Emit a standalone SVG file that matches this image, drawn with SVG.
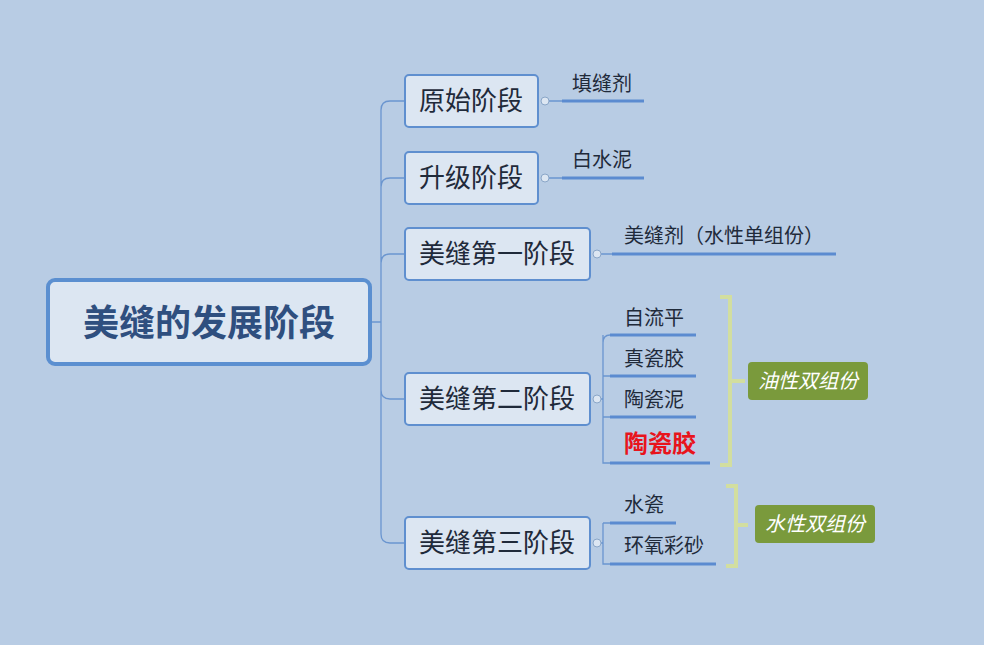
<svg xmlns="http://www.w3.org/2000/svg" width="984" height="645" viewBox="0 0 984 645">
<style>
.n{fill:#dce6f2;stroke:#5f8fcf;stroke-width:2}
.t{font-family:"Noto Sans CJK SC",sans-serif;fill:#1f2a3a}
.st{font-size:26px}
.lf{font-size:20px}
.c{fill:none;stroke:#6a95cf;stroke-width:1.3}
.u{stroke:#5b8bd0;stroke-width:3}
.br{fill:none;stroke:#d2dea0;stroke-width:4}
.g{fill:#7a9a3c}
.gt{font-family:"Noto Sans CJK SC",sans-serif;font-size:20px;font-style:italic;fill:#fff}
.k{fill:#dce6f2;stroke:#8aa6c8;stroke-width:1}
</style>
<rect width="984" height="645" fill="#b8cce4"/>
<g id="connectors">
<path class="c" d="M370,322 H381 M381,110 Q381,101 390,101 H405 M381,187 Q381,178 390,178 H405 M381,263 Q381,254 390,254 H405 M381,390 Q381,399 390,399 H405 M381,534 Q381,543 390,543 H405 M381,110 V534"/>
<path class="c" d="M549,101 H562 M549,178 H562 M601,254 H612 M594,399 H603 M603,343 Q603,335 610,335 M603,335 V463 H610 M603,376 H610 M603,417 H610 M594,543 H603 M603,523 H610 M603,523 V564 H610"/>
<line class="u" x1="562" y1="101" x2="644" y2="101"/>
<line class="u" x1="562" y1="178" x2="644" y2="178"/>
<line class="u" x1="612" y1="254" x2="836" y2="254"/>
<line class="u" x1="610" y1="335" x2="696" y2="335"/>
<line class="u" x1="610" y1="376" x2="696" y2="376"/>
<line class="u" x1="610" y1="417" x2="696" y2="417"/>
<line class="u" x1="610" y1="463" x2="710" y2="463"/>
<line class="u" x1="610" y1="523" x2="676" y2="523"/>
<line class="u" x1="610" y1="564" x2="716" y2="564"/>
<path class="br" d="M720,297 H730 V465 H720 M730,381 H745"/>
<path class="br" d="M726,486 H736 V566 H726 M736,525 H748"/>
<circle class="k" cx="545" cy="101" r="4"/>
<circle class="k" cx="545" cy="178" r="4"/>
<circle class="k" cx="597" cy="254" r="4"/>
<circle class="k" cx="597" cy="399" r="4"/>
<circle class="k" cx="597" cy="543" r="4"/>
</g>
<g id="root"><rect x="48" y="280" width="322" height="84" rx="7" fill="#dce6f2" stroke="#5b8fd0" stroke-width="4"/>
<text x="209" y="336" text-anchor="middle" font-family="Noto Sans CJK SC,sans-serif" font-size="36" font-weight="bold" fill="#2f4f7f">美缝的发展阶段</text></g>
<g id="s1"><rect class="n" x="405" y="75" width="133" height="52" rx="4"/><text class="t st" x="471" y="110" text-anchor="middle">原始阶段</text></g>
<g id="s2"><rect class="n" x="405" y="152" width="133" height="52" rx="4"/><text class="t st" x="471" y="187" text-anchor="middle">升级阶段</text></g>
<g id="s3"><rect class="n" x="405" y="228" width="185" height="52" rx="4"/><text class="t st" x="497" y="263" text-anchor="middle">美缝第一阶段</text></g>
<g id="s4"><rect class="n" x="405" y="373" width="185" height="52" rx="4"/><text class="t st" x="497" y="408" text-anchor="middle">美缝第二阶段</text></g>
<g id="s5"><rect class="n" x="405" y="517" width="185" height="52" rx="4"/><text class="t st" x="497" y="552" text-anchor="middle">美缝第三阶段</text></g>
<g id="l1"><text class="t lf" x="572" y="91">填缝剂</text></g>
<g id="l2"><text class="t lf" x="572" y="167">白水泥</text></g>
<g id="l3"><text class="t lf" x="624" y="243">美缝剂（水性单组份）</text></g>
<g id="l4"><text class="t lf" x="624" y="325">自流平</text></g>
<g id="l5"><text class="t lf" x="624" y="366">真瓷胶</text></g>
<g id="l6"><text class="t lf" x="624" y="407">陶瓷泥</text></g>
<g id="l7"><text x="624" y="452" font-family="Noto Sans CJK SC,sans-serif" font-size="24" font-weight="bold" fill="#e8141c">陶瓷胶</text></g>
<g id="l8"><text class="t lf" x="624" y="512">水瓷</text></g>
<g id="l9"><text class="t lf" x="624" y="553">环氧彩砂</text></g>
<g id="g1"><rect class="g" x="748" y="362" width="120" height="38" rx="4"/><text class="gt" x="808" y="388" text-anchor="middle">油性双组份</text></g>
<g id="g2"><rect class="g" x="755" y="505" width="120" height="38" rx="4"/><text class="gt" x="815" y="531" text-anchor="middle">水性双组份</text></g>
</svg>
